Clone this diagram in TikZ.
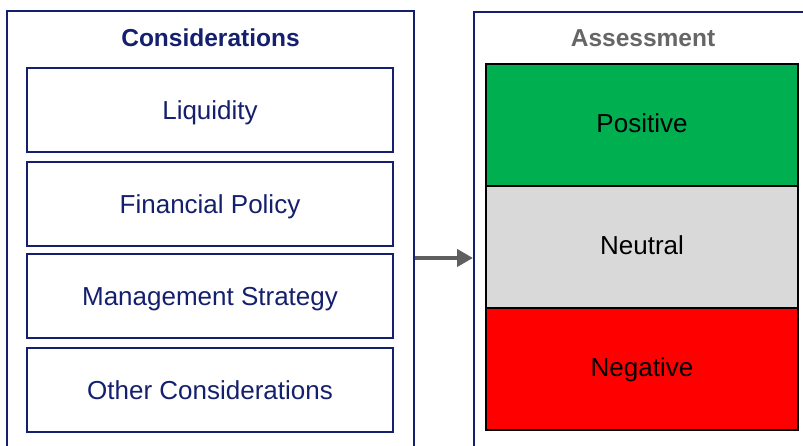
\documentclass[tikz,border=0pt]{standalone}
\usepackage{fontspec}
\setmainfont{Liberation Sans}
\usetikzlibrary{arrows.meta}
\definecolor{navy}{HTML}{14206E}
\definecolor{posgreen}{HTML}{00B050}
\definecolor{neugray}{HTML}{D9D9D9}
\definecolor{negred}{HTML}{FF0000}
\definecolor{titlegray}{HTML}{666666}
\definecolor{arrowgray}{HTML}{5F5F5F}
\begin{document}
\begin{tikzpicture}[x=1pt,y=1pt,
  frame/.style={draw=navy,line width=2pt},
  itembox/.style={draw=navy,line width=2pt,minimum width=366pt,minimum height=84pt,inner sep=0pt,text height=18.6pt,text depth=0pt,text=navy,font=\fontsize{26}{30}\selectfont},
  ratebox/.style={draw=black,line width=2pt,minimum width=312pt,minimum height=122pt,inner sep=0pt,text height=18.6pt,text depth=4pt,text=black,font=\fontsize{26}{30}\selectfont},
  ttl/.style={font=\bfseries\fontsize{24.5}{28}\selectfont,text height=17.6pt,text depth=0pt,inner sep=0pt}]
\useasboundingbox (0,0) rectangle (803,446);
\fill[white] (0,0) rectangle (803,446);
% outer frames
\draw[frame] (7,-10) -- (7,435) -- (414,435) -- (414,-10);
\draw[frame] (474,-10) -- (474,434) -- (815,434);
% titles
\node[ttl,text=navy] (tc) at (210.5,408.5) {Considerations};
\node[ttl,text=titlegray] (ta) at (643,408.5) {Assessment};
% considerations
\node[itembox] (liq) at (210,336) {Liquidity};
\node[itembox] (fin) at (210,242) {Financial Policy};
\node[itembox] (man) at (210,149.5) {Management Strategy};
\node[itembox] (oth) at (210,56) {Other Considerations};
% assessment
\node[ratebox,fill=posgreen] (pos) at (642,320.5) {Positive};
\node[ratebox,fill=neugray] (neu) at (642,198.5) {Neutral};
\node[ratebox,fill=negred] (neg) at (642,76.5) {Negative};
% arrow
\coordinate (as) at (415,188);
\coordinate (ae) at (473,188);
\draw[arrowgray,line width=4pt,-{Triangle[length=16pt,width=17pt]}] (as) -- (ae);
\end{tikzpicture}
\end{document}
